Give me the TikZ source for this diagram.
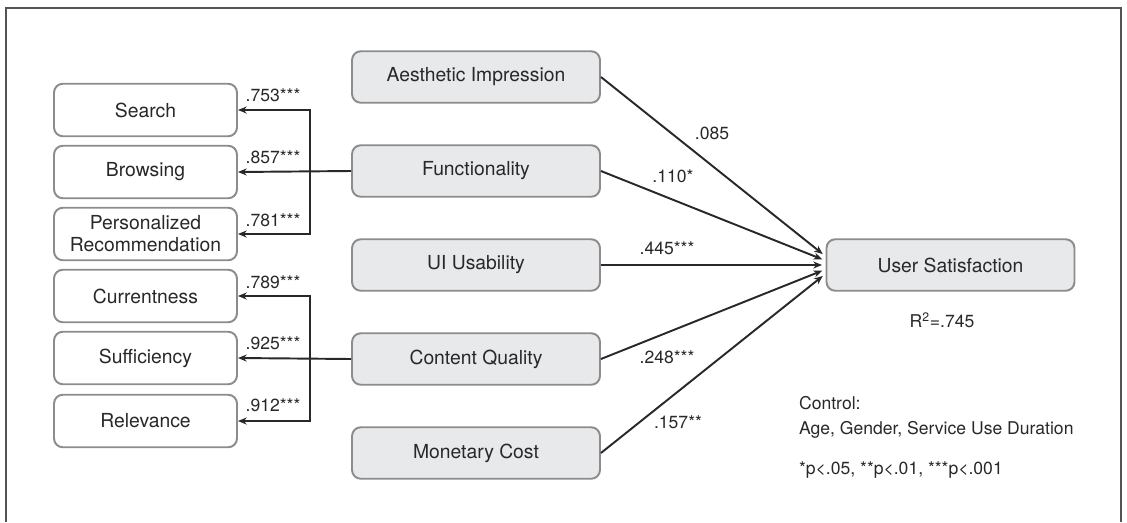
\documentclass[tikz,border=0pt]{standalone}
\usepackage{fontspec}
\setmainfont{TeX Gyre Heros}
\usetikzlibrary{arrows.meta}

\definecolor{boxfill}{RGB}{232,233,235}
\definecolor{boxline}{RGB}{140,140,140}
\definecolor{inkgray}{RGB}{40,40,40}

\begin{document}
\begin{tikzpicture}[x=0.02cm, y=-0.02cm,
    subbox/.style={draw=boxline, line width=1.1pt, rounded corners=5pt, fill=white,
        minimum width=3.66cm, minimum height=1.05cm, align=center,
        text=inkgray, font=\fontsize{11}{12.5}\selectfont},
    mainbox/.style={subbox, fill=boxfill, minimum width=4.96cm, minimum height=1.03cm},
    path/.style={draw=inkgray, line width=1.1pt, -{Stealth[length=5pt,width=4pt]}},
    coef/.style={text=inkgray, font=\fontsize{10}{12}\selectfont, inner sep=1pt}]
    % fix the page to the reference size
    \useasboundingbox (0,0) rectangle (1127,522);

    % outer frame, open at the bottom
    \draw[boxline!60!black, line width=0.6pt] (6,522) -- (6,8) -- (1121,8) -- (1121,522);

    % second-order factors in the middle
    \node[mainbox] (aesth)   at (476,77)  {Aesthetic Impression};
    \node[mainbox] (func)    at (476,171) {Functionality};
    \node[mainbox] (uiuse)   at (476,265) {UI Usability};
    \node[mainbox] (content) at (476,359) {Content Quality};
    \node[mainbox] (cost)    at (476,453) {Monetary Cost};

    % outcome
    \node[mainbox] (usersat) at (950.5,265) {User Satisfaction};

    % first-order factors on the left
    \node[subbox] (search)  at (145.5,110) {Search};
    \node[subbox] (browse)  at (145.5,172) {Browsing};
    \node[subbox] (recom)   at (145.5,234) {Personalized\\Recommendation};
    \node[subbox] (current) at (145.5,296) {Currentness};
    \node[subbox] (suffic)  at (145.5,358) {Sufficiency};
    \node[subbox] (relev)   at (145.5,421) {Relevance};

    % loadings of Functionality
    \coordinate (fsplit) at (310,171);
    \draw[path] (func.west) -- (browse.east);
    \draw[path, {Stealth[length=5pt,width=4pt]}-{Stealth[length=5pt,width=4pt]}]
        (search.east) -| (fsplit) |- (recom.east);
    \node[coef] (l1) at (273,95)  {.753***};
    \node[coef] (l2) at (273,157) {.857***};
    \node[coef] (l3) at (273,220) {.781***};

    % loadings of Content Quality
    \coordinate (csplit) at (310,359);
    \draw[path] (content.west) -- (suffic.east);
    \draw[path, {Stealth[length=5pt,width=4pt]}-{Stealth[length=5pt,width=4pt]}]
        (current.east) -| (csplit) |- (relev.east);
    \node[coef] (l4) at (273,282) {.789***};
    \node[coef] (l5) at (273,343) {.925***};
    \node[coef] (l6) at (273,405) {.912***};

    % paths to User Satisfaction
    \draw[path, shorten >=2pt] (aesth.east)   -- (usersat.176.8);
    \draw[path, shorten >=2pt] (func.east)    -- (usersat.178.2);
    \draw[path, shorten >=2pt] (uiuse.east)   -- (usersat.west);
    \draw[path, shorten >=2pt] (content.east) -- (usersat.182.3);
    \draw[path, shorten >=2pt] (cost.east)    -- (usersat.184.6);
    \node[coef] (b1) at (712,133) {.085};
    \node[coef] (b2) at (673,176) {.110*};
    \node[coef] (b3) at (667,248) {.445***};
    \node[coef] (b4) at (667,357) {.248***};
    \node[coef] (b5) at (678,422) {.157**};

    % notes
    \node[coef] (rsq) at (942,320) {R\textsuperscript{2}=.745};
    \node[coef, anchor=west] (ctrl) at (797,403) {Control:};
    \node[coef, anchor=west] (ctrlv) at (797,430) {Age, Gender, Service Use Duration};
    \node[coef, anchor=west] (sig) at (797,470) {*p<.05, **p<.01, ***p<.001};
\end{tikzpicture}
\end{document}
